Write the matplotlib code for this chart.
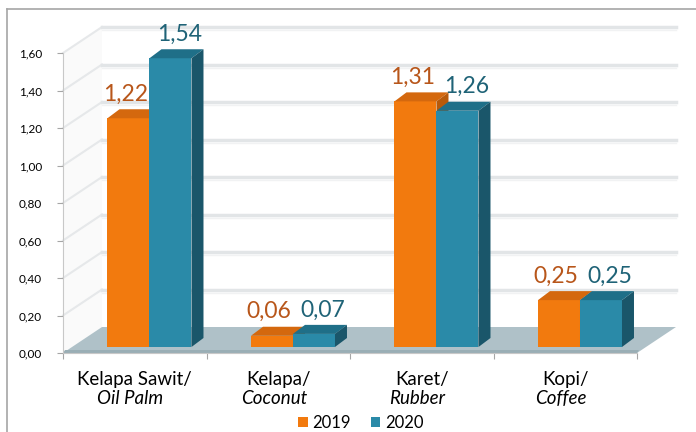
import numpy as np
import matplotlib.pyplot as plt
from matplotlib.patches import Polygon, Patch
from matplotlib.lines import Line2D

plt.rcParams['font.family'] = ['Lato', 'DejaVu Sans']

# data
categories = ['Kelapa Sawit/', 'Kelapa/', 'Karet/', 'Kopi/']
categories_en = ['Oil Palm', 'Coconut', 'Rubber', 'Coffee']
years = ['2019', '2020']
val_2019 = [1.22, 0.06, 1.31, 0.25]
val_2020 = [1.54, 0.07, 1.26, 0.25]
yticks = [0.0, 0.2, 0.4, 0.6, 0.8, 1.0, 1.2, 1.4, 1.6]

# colours: front, top, side, label
c_2019 = ['#F27A0E', '#D4680E', '#B85A0A', '#B8561A']
c_2020 = ['#2A8AA8', '#1F6F88', '#1A566A', '#1F6377']

W, H = 696, 432
fig = plt.figure(figsize=(W / 100, H / 100), dpi=100)
ax = fig.add_axes([63 / W, (H - 353) / H, 574 / W, 300 / H])
ax.set_xlim(0, 4)
ax.set_ylim(0, 1.6)
ux = 4 / 574    # data units per pixel
uy = 1.6 / 300

#* floor / wall depth
Dx, Dy = 39 * ux, 26 * uy
# left wall
ax.add_patch(Polygon([(0, 0), (Dx, Dy), (Dx, 1.6 + Dy), (0, 1.6)],
                     closed=True, fc='#FAFAFA', ec='none', zorder=1, clip_on=False))
for v in yticks[1:]:
    ax.plot([0, Dx], [v, v + Dy], color='#E6E8EA', lw=1.5, zorder=1.5, clip_on=False)
    ax.plot([Dx, 4 + Dx], [v + Dy, v + Dy], color='#E2E5E7', lw=2.5, zorder=1.5, clip_on=False)
    ax.plot([Dx, 4 + Dx], [v + Dy - 3 * uy, v + Dy - 3 * uy], color='#F1F2F3', lw=1.0, zorder=1.4, clip_on=False)
# floor
ax.add_patch(Polygon([(0, 0), (4, 0), (4 + Dx, Dy), (Dx, Dy)],
                     closed=True, fc='#AFC1C8', ec='none', zorder=2, clip_on=False))
ax.add_patch(Polygon([(0, 0), (4, 0), (4 + 2 * ux, 3 * uy), (2 * ux, 3 * uy)],
                     closed=True, fc='#9AAEB5', ec='none', zorder=2.1, clip_on=False))

#* bars (front face with bar(), top and side as polygons)
x0 = np.arange(len(categories)) + 0.31
w = 42 * ux
by = 6 * uy
ddx, ddy = 12 * ux, 9 * uy
label_dx = [-3 * ux, 9 * ux]
for j, (vals, cols) in enumerate([(val_2019, c_2019), (val_2020, c_2020)]):
    xs = x0 + j * w
    for k, (x, v) in enumerate(zip(xs, vals)):
        z = 3 + k * 0.1 + j * 0.01
        ax.bar(x, v, width=w, bottom=by, align='edge', color=cols[0], zorder=z, clip_on=False)
        ax.add_patch(Polygon([(x, by + v), (x + w, by + v), (x + w + ddx, by + v + ddy), (x + ddx, by + v + ddy)],
                             closed=True, fc=cols[1], ec='none', zorder=z, clip_on=False))
        ax.add_patch(Polygon([(x + w, by), (x + w + ddx, by + ddy), (x + w + ddx, by + v + ddy), (x + w, by + v)],
                             closed=True, fc=cols[2], ec='none', zorder=z, clip_on=False))
        ax.text(x + w / 2 + label_dx[j], by + v + 24 * uy, f'{v:.2f}'.replace('.', ','),
                ha='center', va='center', fontsize=16.5, color=cols[3], zorder=6, clip_on=False)

#* axes styling
ax.set_yticks(yticks)
ax.set_yticklabels([f'{t:.2f}'.replace('.', ',') for t in yticks])
ax.set_xticks([0, 1, 2, 3, 4])
ax.set_xticklabels([])
ax.tick_params(axis='y', length=4, color='#A6A6A6', pad=11, labelsize=8.5, labelcolor='#000000')
ax.tick_params(axis='x', length=4, color='#A6A6A6')
for s in ['top', 'right']:
    ax.spines[s].set_visible(False)
ax.spines['left'].set_color('#C8C8C8')
ax.spines['bottom'].set_color('#C8C8C8')
ax.set_facecolor('none')

for i, (c1, c2) in enumerate(zip(categories, categories_en)):
    ax.text(i + 0.5, -27 * uy, c1, ha='center', va='center', fontsize=13.5, clip_on=False)
    ax.text(i + 0.47, -45 * uy, c2, ha='center', va='center', fontsize=13.5, style='italic', clip_on=False)

fig.legend(handles=[Patch(fc=c_2019[0]), Patch(fc=c_2020[0])], labels=years, loc='center',
           bbox_to_anchor=(361 / W, 1 - 423 / H), ncol=2, frameon=False, fontsize=12,
           handlelength=0.55, handleheight=0.55, handletextpad=0.3, columnspacing=1.2)

# chart border
fig.add_artist(Line2D([7 / W, 1], [1 - 9 / H, 1 - 9 / H], color='#A6A6A6', lw=1.2))
fig.add_artist(Line2D([7 / W, 7 / W], [0, 1 - 9 / H], color='#A6A6A6', lw=1.2))

fig.savefig('out.png', dpi=100)
